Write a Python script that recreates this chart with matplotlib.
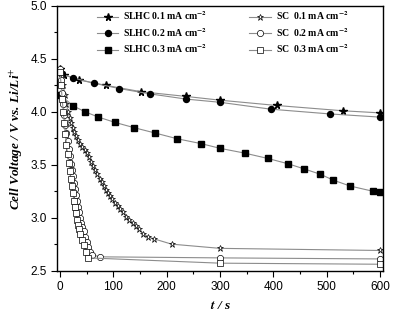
import numpy as np
import matplotlib
matplotlib.use("Agg")
import matplotlib.pyplot as plt
from matplotlib.ticker import MultipleLocator

# SLHC curves (filled markers)
t_slhc1 = [0, 7, 36, 86, 152, 237, 300, 406, 530, 600]
v_slhc1 = [4.40, 4.35, 4.30, 4.25, 4.19, 4.145, 4.11, 4.06, 4.01, 3.99]

t_slhc2 = [3, 25, 64, 111, 168, 237, 300, 395, 506, 600]
v_slhc2 = [4.36, 4.32, 4.27, 4.22, 4.17, 4.12, 4.09, 4.025, 3.98, 3.95]

t_slhc3 = [0, 25, 47, 72, 103, 139, 178, 220, 264, 300, 346, 389,
           427, 458, 488, 512, 543, 586, 600]
v_slhc3 = [4.16, 4.055, 4.00, 3.95, 3.90, 3.85, 3.80, 3.745, 3.70, 3.655,
           3.61, 3.56, 3.51, 3.46, 3.41, 3.355, 3.30, 3.25, 3.24]

# SC curves (open markers)
t_sc1 = [0, 3, 6, 9, 12, 15, 18, 21, 24, 27, 30, 34, 38, 42, 46, 50, 54,
         58, 62, 66, 70, 74, 78, 82, 86, 90, 94, 98, 103, 108, 113, 118,
         124, 130, 136, 142, 148, 156, 165, 176, 209, 300, 600]
v_sc1 = [4.40, 4.33, 4.25, 4.16, 4.07, 4.00, 3.94, 3.89, 3.85, 3.81, 3.77,
         3.73, 3.70, 3.67, 3.64, 3.61, 3.57, 3.53, 3.49, 3.45, 3.41, 3.37,
         3.34, 3.30, 3.26, 3.23, 3.20, 3.18, 3.14, 3.11, 3.08, 3.05, 3.01,
         2.98, 2.95, 2.92, 2.89, 2.85, 2.82, 2.80, 2.75, 2.71, 2.69]

t_sc2 = [0, 2, 4, 6, 8, 10, 12, 14, 16, 18, 20, 22, 24, 26, 28, 30, 32, 34,
         36, 38, 40, 42, 44, 47, 50, 53, 56, 60, 75, 300, 600]
v_sc2 = [4.40, 4.30, 4.18, 4.07, 3.97, 3.88, 3.80, 3.72, 3.65, 3.58, 3.51,
         3.45, 3.39, 3.33, 3.27, 3.21, 3.16, 3.10, 3.05, 3.00, 2.95, 2.91,
         2.87, 2.82, 2.77, 2.72, 2.68, 2.65, 2.63, 2.62, 2.61]

t_sc3 = [0, 2, 4, 6, 8, 10, 12, 14, 16, 18, 20, 22, 24, 26, 28, 30, 32, 34,
         36, 38, 41, 44, 48, 53, 300, 600]
v_sc3 = [4.38, 4.25, 4.12, 4.00, 3.89, 3.79, 3.69, 3.60, 3.52, 3.44, 3.37,
         3.30, 3.23, 3.16, 3.10, 3.04, 2.98, 2.93, 2.89, 2.85, 2.79, 2.74,
         2.68, 2.62, 2.57, 2.56]

labels = [r"SLHC 0.1 mA cm$^{\mathbf{-2}}$",
          r"SLHC 0.2 mA cm$^{\mathbf{-2}}$",
          r"SLHC 0.3 mA cm$^{\mathbf{-2}}$",
          r"SC  0.1 mA cm$^{\mathbf{-2}}$",
          r"SC  0.2 mA cm$^{\mathbf{-2}}$",
          r"SC  0.3 mA cm$^{\mathbf{-2}}$"]

plt.rcParams["mathtext.fontset"] = "stix"
LINE_COL = "#8c8c8c"

fig = plt.figure(figsize=(3.93, 3.15), dpi=100)
ax = fig.add_axes([0.146, 0.141, 0.828, 0.840])

common = dict(color=LINE_COL, linewidth=0.8, markeredgecolor="black")
ax.plot(t_slhc1, v_slhc1, marker="*", markersize=5.5, markerfacecolor="black",
        label=labels[0], **common)
ax.plot(t_slhc2, v_slhc2, marker="o", markersize=4.3, markerfacecolor="black",
        label=labels[1], **common)
ax.plot(t_slhc3, v_slhc3, marker="s", markersize=3.8, markerfacecolor="black",
        label=labels[2], **common)
ax.plot(t_sc1, v_sc1, marker="*", markersize=5, markerfacecolor="white",
        markeredgewidth=0.5, label=labels[3], **common)
ax.plot(t_sc2, v_sc2, marker="o", markersize=4.5, markerfacecolor="white",
        markeredgewidth=0.5, label=labels[4], **common)
ax.plot(t_sc3, v_sc3, marker="s", markersize=4, markerfacecolor="white",
        markeredgewidth=0.5, label=labels[5], **common)

ax.set_xlim(-5, 605)
ax.set_ylim(2.5, 5.0)
ax.xaxis.set_major_locator(MultipleLocator(100))
ax.xaxis.set_minor_locator(MultipleLocator(50))
ax.yaxis.set_major_locator(MultipleLocator(0.5))
ax.yaxis.set_minor_locator(MultipleLocator(0.25))
ax.tick_params(which="both", direction="out", top=False, right=False)
ax.tick_params(which="major", length=4, width=0.8, labelsize=8.5)
ax.tick_params(which="minor", length=2.5, width=0.8)
for lab in ax.get_xticklabels() + ax.get_yticklabels():
    lab.set_fontfamily("Liberation Sans")
for spine in ax.spines.values():
    spine.set_linewidth(1.0)

ax.set_xlabel(r"$\boldsymbol{t}$ / s", fontsize=9.5, family="Liberation Serif",
              fontweight="bold", fontstyle="italic", labelpad=5)
ax.set_ylabel(r"Cell Voltage / V vs. Li/Li$^{+}$", fontsize=9.5,
              family="Liberation Serif", fontweight="bold", fontstyle="italic",
              labelpad=4)

leg = ax.legend(ncol=2, loc="upper left", bbox_to_anchor=(0.095, 1.02),
                frameon=False, handlelength=2.2, handletextpad=0.5,
                columnspacing=4.3, labelspacing=0.35,
                prop={"family": "Liberation Serif", "weight": "bold",
                      "size": 7})

fig.savefig("out.png", dpi=100)
